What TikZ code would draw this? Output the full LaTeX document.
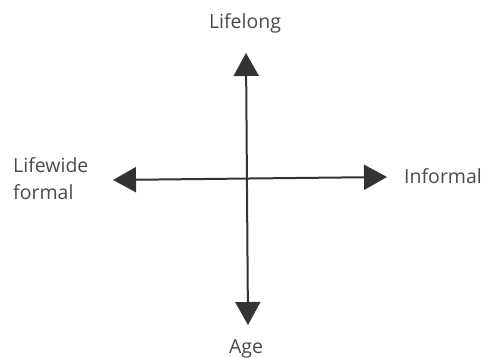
\documentclass[tikz,border=0pt]{standalone}
\usepackage{fontspec}
\setmainfont{Open Sans}
\usetikzlibrary{arrows.meta}
\definecolor{axisgray}{HTML}{333333}
\definecolor{labelgray}{HTML}{4A4A4A}
\tikzset{
  axis/.style={line width=2pt, draw=axisgray,
    {Triangle[width=25pt,length=23pt,fill=axisgray]}-{Triangle[width=25pt,length=23pt,fill=axisgray]}},
  lbl/.style={text=labelgray, font=\fontsize{19.5}{26}\selectfont, inner sep=0pt}
}
\begin{document}
\begin{tikzpicture}[x=1pt,y=-1pt]
\useasboundingbox (0,0) rectangle (484,358);
\coordinate (top) at (246,53);
\coordinate (bottom) at (248,325);
\coordinate (left) at (113,180);
\coordinate (right) at (387,177);
\draw[axis] (top) -- (bottom);
\draw[axis] (left) -- (right);
\node[lbl, anchor=base] (lifelong) at (245,29) {Lifelong};
\node[lbl, anchor=base] (age) at (246,353) {Age};
\node[lbl, anchor=base west] (informal) at (404,183) {Informal};
\node[lbl, anchor=base west, align=left] (lifewide) at (13,199) {Lifewide\\formal};
\end{tikzpicture}
\end{document}
